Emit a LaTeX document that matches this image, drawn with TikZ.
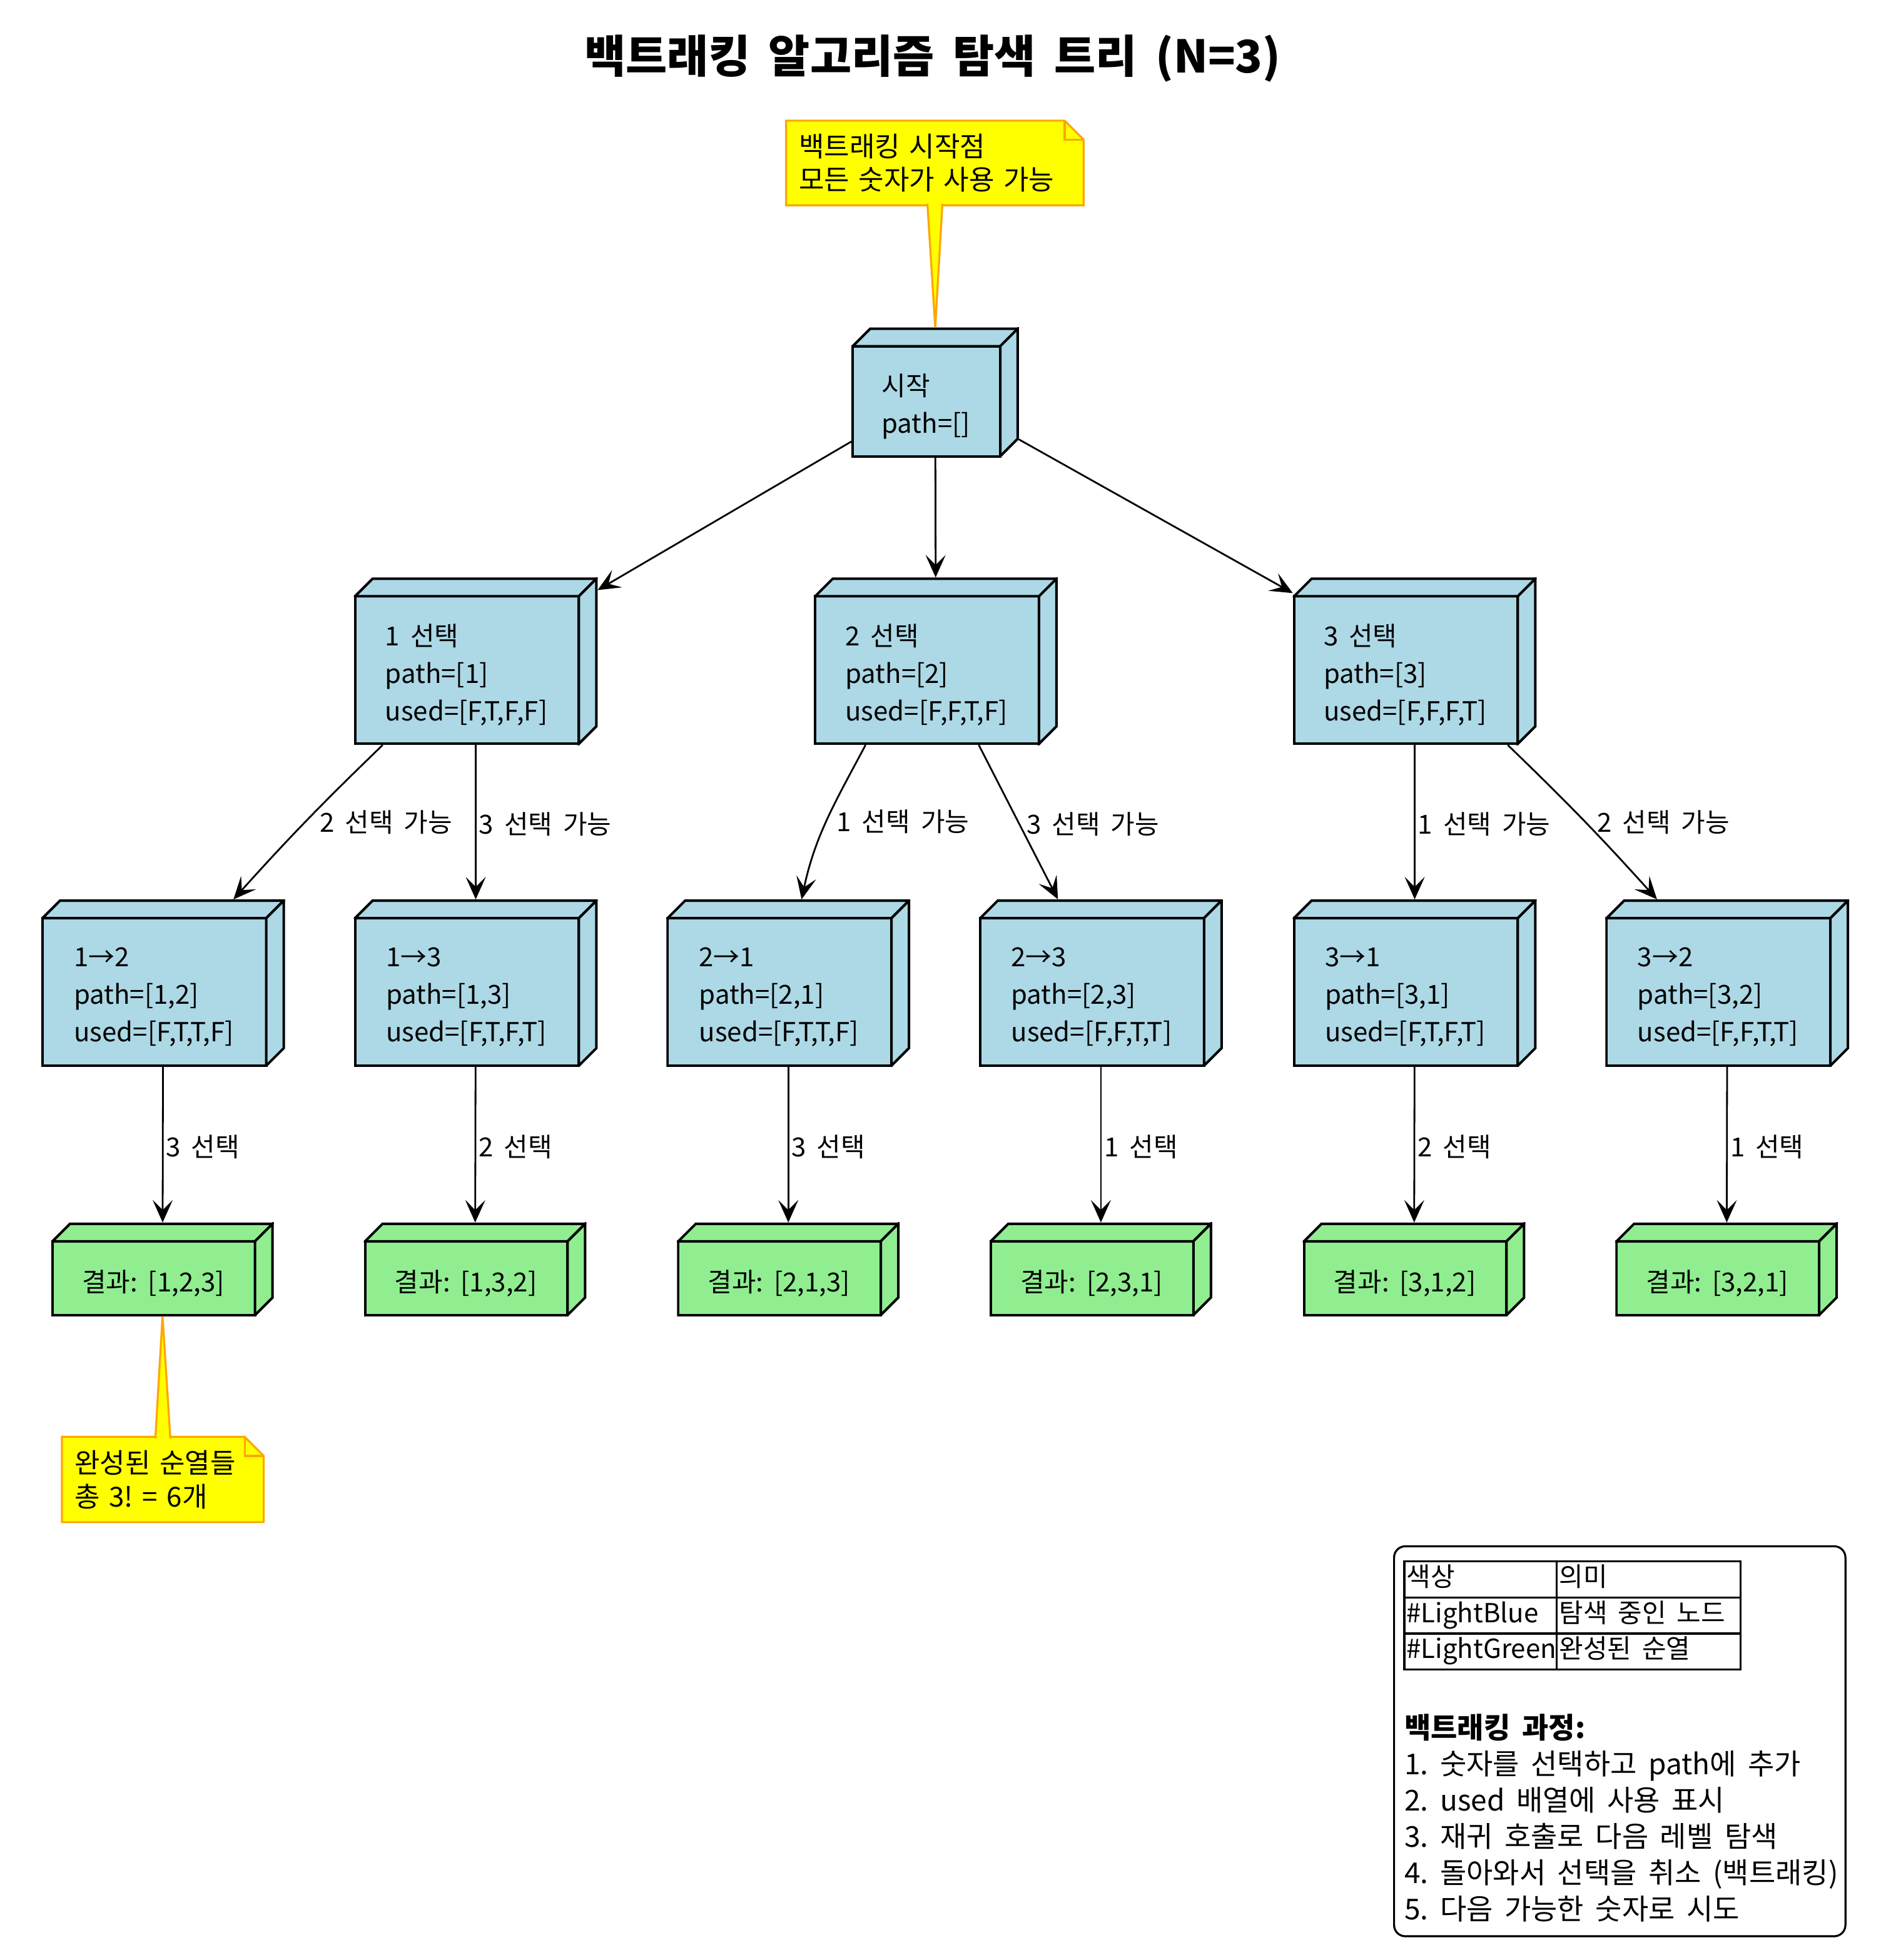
\documentclass[tikz,border=0pt]{standalone}
\usepackage{fontspec}
\usepackage{array}
\setmainfont{Noto Sans CJK KR}[WordSpace=1.8]
\frenchspacing
\usetikzlibrary{arrows.meta}
\definecolor{nodeblue}{HTML}{ADD8E6}
\definecolor{nodegreen}{HTML}{90EE90}
\definecolor{notefill}{HTML}{FFFF00}
\definecolor{noteedge}{HTML}{FFA500}
\tikzset{
  cube3d/.style={inner sep=0pt, outer sep=0pt,
    path picture={
      \filldraw[fill=#1, line width=1pt]
        ([shift={(.5pt,.5pt)}]path picture bounding box.south west) rectangle
        ([shift={(-7.5pt,-7.5pt)}]path picture bounding box.north east);
      \filldraw[fill=#1, line width=1pt]
        ([shift={(.5pt,-7.5pt)}]path picture bounding box.north west) --
        ([shift={(7.5pt,-.5pt)}]path picture bounding box.north west) --
        ([shift={(-.5pt,-.5pt)}]path picture bounding box.north east) --
        ([shift={(-7.5pt,-7.5pt)}]path picture bounding box.north east) -- cycle;
      \filldraw[fill=#1, line width=1pt]
        ([shift={(-7.5pt,-7.5pt)}]path picture bounding box.north east) --
        ([shift={(-.5pt,-.5pt)}]path picture bounding box.north east) --
        ([shift={(-.5pt,7.5pt)}]path picture bounding box.south east) --
        ([shift={(-7.5pt,.5pt)}]path picture bounding box.south east) -- cycle;
    }},
  facetext/.style={align=left, inner sep=0pt, shift={(-3.75pt,-5.5pt)},
    font=\fontsize{10.5}{15}\selectfont},
  face/.style={label={[facetext]center:{#1}}},
  startbox/.style={cube3d=nodeblue, minimum width=67pt, minimum height=52pt},
  pickbox/.style={cube3d=nodeblue, minimum width=97.5pt, minimum height=67pt},
  donebox/.style={cube3d=nodegreen, minimum width=89pt, minimum height=37.5pt},
  noteline/.style={fill=notefill, draw=noteedge, line width=.8pt},
  notebox/.style={align=left, inner xsep=5.5pt, inner ysep=0pt,
    font=\fontsize{11}{13.5}\selectfont,
    path picture={
      \filldraw[noteline]
        ([shift={(.4pt,.4pt)}]path picture bounding box.south west) --
        ([shift={(.4pt,-.4pt)}]path picture bounding box.north west) --
        ([shift={(-8pt,-.4pt)}]path picture bounding box.north east) --
        ([shift={(-.4pt,-8pt)}]path picture bounding box.north east) --
        ([shift={(-.4pt,.4pt)}]path picture bounding box.south east) -- cycle;
      \draw[noteline, fill=none]
        ([shift={(-8pt,-.4pt)}]path picture bounding box.north east) |-
        ([shift={(-.4pt,-8pt)}]path picture bounding box.north east);
    }},
  keybox/.style={draw, line width=.8pt, rounded corners=4.5pt,
    minimum width=180.5pt, minimum height=156pt},
  lbl/.style={anchor=west, inner sep=1pt, yshift=-.75pt,
    font=\fontsize{10.5}{13}\selectfont},
}
\begin{document}
\begin{tikzpicture}[x=.5pt, y=.5pt]
  \useasboundingbox (0,0) rectangle (1504,-1568);
  \node[font=\bfseries\fontsize{18}{22}\selectfont] (title) at (746,-47)
    {백트래킹 알고리즘 탐색 트리 (N=3)};
  \path
    (748,-314) node[startbox, face={시작\\path=[]}] (start) {}
    (380.5,-529) node[pickbox, face={1 선택\\path=[1]\\used=[F,T,F,F]}] (pick1) {}
    (748.5,-529) node[pickbox, face={2 선택\\path=[2]\\used=[F,F,T,F]}] (pick2) {}
    (1131.5,-529) node[pickbox, face={3 선택\\path=[3]\\used=[F,F,F,T]}] (pick3) {}
    (130.5,-786.5) node[pickbox, face={1→2\\path=[1,2]\\used=[F,T,T,F]}] (pick12) {}
    (380.5,-786.5) node[pickbox, face={1→3\\path=[1,3]\\used=[F,T,F,T]}] (pick13) {}
    (630.5,-786.5) node[pickbox, face={2→1\\path=[2,1]\\used=[F,T,T,F]}] (pick21) {}
    (880.5,-786.5) node[pickbox, face={2→3\\path=[2,3]\\used=[F,F,T,T]}] (pick23) {}
    (1131.5,-786.5) node[pickbox, face={3→1\\path=[3,1]\\used=[F,T,F,T]}] (pick31) {}
    (1381.5,-786.5) node[pickbox, face={3→2\\path=[3,2]\\used=[F,F,T,T]}] (pick32) {}
    (130,-1015.5) node[donebox, face={결과: [1,2,3]}] (done123) {}
    (380,-1015.5) node[donebox, face={결과: [1,3,2]}] (done132) {}
    (630.5,-1015.5) node[donebox, face={결과: [2,1,3]}] (done213) {}
    (880.5,-1015.5) node[donebox, face={결과: [2,3,1]}] (done231) {}
    (1131,-1015.5) node[donebox, face={결과: [3,1,2]}] (done312) {}
    (1381,-1015.5) node[donebox, face={결과: [3,2,1]}] (done321) {};
  \node[notebox, text width=108.75pt, minimum height=34.65pt] (tip1) at (747.75,-130.35)
    {백트래킹 시작점\\모든 숫자가 사용 가능};
  \node[notebox, text width=70.5pt, minimum height=34.9pt] (tip2) at (130.25,-1183.6)
    {완성된 순열들\\총 3! = 6개};
  \filldraw[noteline] ([shift={(-3pt,1.2pt)}]tip1.south) -- (start.north)
    -- ([shift={(3pt,1.2pt)}]tip1.south);
  \filldraw[noteline] ([shift={(-3pt,-1.2pt)}]tip2.north) -- (done123.south)
    -- ([shift={(3pt,-1.2pt)}]tip2.north);
  \node[keybox] (key) at (1295.5,-1393) {};
  \node[anchor=north west, inner sep=0pt, font=\fontsize{10.5}{13.6}\selectfont]
    (keytab) at (1122,-1248) {\setlength\tabcolsep{.5pt}\setlength\arrayrulewidth{.8pt}%
    \begin{tabular}{|w{l}{59.2pt}|w{l}{71.7pt}|}\hline
      색상 & 의미\\\hline
      \#LightBlue & 탐색 중인 노드\\\hline
      \#LightGreen & 완성된 순열\\\hline
    \end{tabular}};
  \node[anchor=north west, align=left, inner sep=0pt, font=\fontsize{11.5}{14.5}\selectfont]
    (keysteps) at (1123,-1371) {\textbf{백트래킹 과정:}\\
      1. 숫자를 선택하고 path에 추가\\
      2. used 배열에 사용 표시\\
      3. 재귀 호출로 다음 레벨 탐색\\
      4. 돌아와서 선택을 취소 (백트래킹)\\
      5. 다음 가능한 숫자로 시도};
  \begin{scope}[-{Stealth[length=9pt, width=8pt, inset=4pt]}, line width=.7pt]
    \draw (start) to (pick1);
    \draw (start) to (pick2);
    \draw (start) to (pick3);
    \draw (pick1.-138) to[out=-136, in=48] node[lbl, xshift=4pt] {2 선택 가능} (pick12.50);
    \draw (pick1) to node[lbl] {3 선택 가능} (pick13);
    \draw (pick2.-130) to[out=-118, in=78] node[lbl, xshift=2.5pt] {1 선택 가능} (pick21.81);
    \draw (pick2) to node[lbl, xshift=2pt] {3 선택 가능} (pick23);
    \draw (pick3) to node[lbl] {1 선택 가능} (pick31);
    \draw (pick3.-42) to[out=-44, in=132] node[lbl, xshift=4pt] {2 선택 가능} (pick32.130);
    \draw (pick12) to node[lbl] {3 선택} (done123);
    \draw (pick13) to node[lbl] {2 선택} (done132);
    \draw (pick21) to node[lbl] {3 선택} (done213);
    \draw (pick23) to node[lbl] {1 선택} (done231);
    \draw (pick31) to node[lbl] {2 선택} (done312);
    \draw (pick32) to node[lbl] {1 선택} (done321);
  \end{scope}
\end{tikzpicture}
\end{document}
